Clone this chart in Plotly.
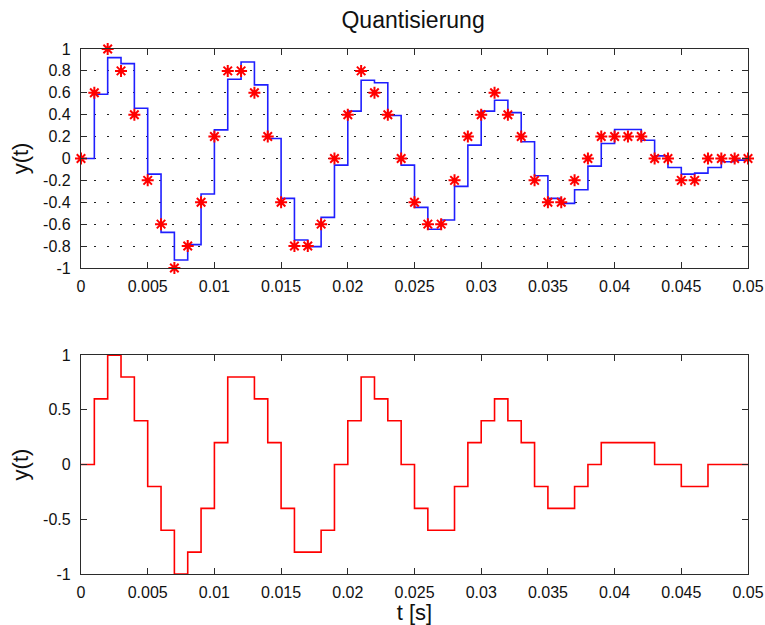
import plotly.graph_objects as go

# sample instants in milliseconds (sampling interval 1 ms)
t_ms = [0, 1, 2, 3, 4, 5, 6, 7, 8, 9, 10, 11, 12, 13, 14, 15, 16, 17, 18, 19,
        20, 21, 22, 23, 24, 25, 26, 27, 28, 29, 30, 31, 32, 33, 34, 35, 36, 37,
        38, 39, 40, 41, 42, 43, 44, 45, 46, 47, 48, 49, 50]

# sampled signal (held between samples)
sampled = [0.0, 0.587, 0.921, 0.866, 0.459, -0.143, -0.675, -0.927, -0.787,
           -0.325, 0.261, 0.723, 0.881, 0.672, 0.182, -0.365, -0.745, -0.805,
           -0.538, -0.061, 0.432, 0.714, 0.692, 0.392, -0.061, -0.447, -0.647,
           -0.562, -0.255, 0.122, 0.432, 0.532, 0.419, 0.152, -0.158, -0.365,
           -0.410, -0.286, -0.070, 0.137, 0.264, 0.264, 0.167, 0.024, -0.082,
           -0.143, -0.134, -0.082, -0.030, -0.015, -0.010]

# quantised values (step 0.2)
quantised = [0, 0.6, 1, 0.8, 0.4, -0.2, -0.6, -1, -0.8, -0.4, 0.2, 0.8, 0.8,
             0.6, 0.2, -0.4, -0.8, -0.8, -0.6, 0, 0.4, 0.8, 0.6, 0.4, 0, -0.4,
             -0.6, -0.6, -0.2, 0.2, 0.4, 0.6, 0.4, 0.2, -0.2, -0.4, -0.4, -0.2,
             0, 0.2, 0.2, 0.2, 0.2, 0, 0, -0.2, -0.2, 0, 0, 0, 0]

x_ticks = [0, 0.005, 0.01, 0.015, 0.02, 0.025, 0.03, 0.035, 0.04, 0.045, 0.05]
x_tick_text = ["0", "0.005", "0.01", "0.015", "0.02", "0.025", "0.03",
               "0.035", "0.04", "0.045", "0.05"]
y1_ticks = [-1, -0.8, -0.6, -0.4, -0.2, 0, 0.2, 0.4, 0.6, 0.8, 1]
y1_tick_text = ["-1", "-0.8", "-0.6", "-0.4", "-0.2", "0", "0.2", "0.4",
                "0.6", "0.8", "1"]
y2_ticks = [-1, -0.5, 0, 0.5, 1]
y2_tick_text = ["-1", "-0.5", "0", "0.5", "1"]

t = [v / 1000 for v in t_ms]

FONT = "Liberation Sans, Arial, Helvetica, sans-serif"
AX = "#2b2b2b"

fig = go.Figure()

fig.add_trace(go.Scatter(
    x=t, y=sampled, mode="lines", line=dict(color="#1f1fff", width=1.6, shape="hv"),
    xaxis="x", yaxis="y", showlegend=False, hoverinfo="skip"))
fig.add_trace(go.Scatter(
    x=t, y=quantised, mode="markers", cliponaxis=False,
    marker=dict(symbol="asterisk-open", size=10, color="red",
                line=dict(color="red", width=2)),
    xaxis="x", yaxis="y", showlegend=False))
fig.add_trace(go.Scatter(
    x=t, y=quantised, mode="lines", line=dict(color="red", width=1.6, shape="hv"),
    xaxis="x2", yaxis="y2", showlegend=False))

common_x = dict(range=[0, 0.05], tickvals=x_ticks, ticktext=x_tick_text,
                showline=True, linecolor=AX, linewidth=1.3, mirror="ticks",
                ticks="inside", ticklen=6, tickcolor=AX, tickwidth=1.3,
                showgrid=False, zeroline=False, automargin=False,
                ticklabelstandoff=4,
                tickfont=dict(family=FONT, size=16, color="#111"))
common_y = dict(range=[-1, 1], showline=True, linecolor=AX, linewidth=1.3,
                mirror="ticks", ticks="inside", ticklen=6, tickcolor=AX,
                tickwidth=1.3, zeroline=False, ticklabelstandoff=6,
                automargin=False,
                tickfont=dict(family=FONT, size=16, color="#111"))

fig.update_layout(
    width=765, height=625,
    margin=dict(l=81, r=17, t=49, b=51),
    plot_bgcolor="white", paper_bgcolor="white",
    title=dict(text="Quantisierung", x=0.54, xanchor="center", y=0.968,
               yanchor="middle", font=dict(family=FONT, size=23, color="#111")),
    xaxis=dict(domain=[0, 1], anchor="y", **common_x),
    yaxis=dict(domain=[0.583, 1], anchor="x", tickvals=y1_ticks,
               ticktext=y1_tick_text, showgrid=True, gridcolor="#222",
               gridwidth=1.2, griddash="2px,11px",
               title=dict(text="y(t)", standoff=8,
                          font=dict(family=FONT, size=22, color="#111")),
               **common_y),
    xaxis2=dict(domain=[0, 1], anchor="y2",
                title=dict(text="t [s]", standoff=7,
                           font=dict(family=FONT, size=22, color="#111")),
                **common_x),
    yaxis2=dict(domain=[0, 0.417], anchor="x2", tickvals=y2_ticks,
                ticktext=y2_tick_text, showgrid=False,
                title=dict(text="y(t)", standoff=8,
                           font=dict(family=FONT, size=22, color="#111")),
                **common_y),
)

fig.write_html("out.html")
